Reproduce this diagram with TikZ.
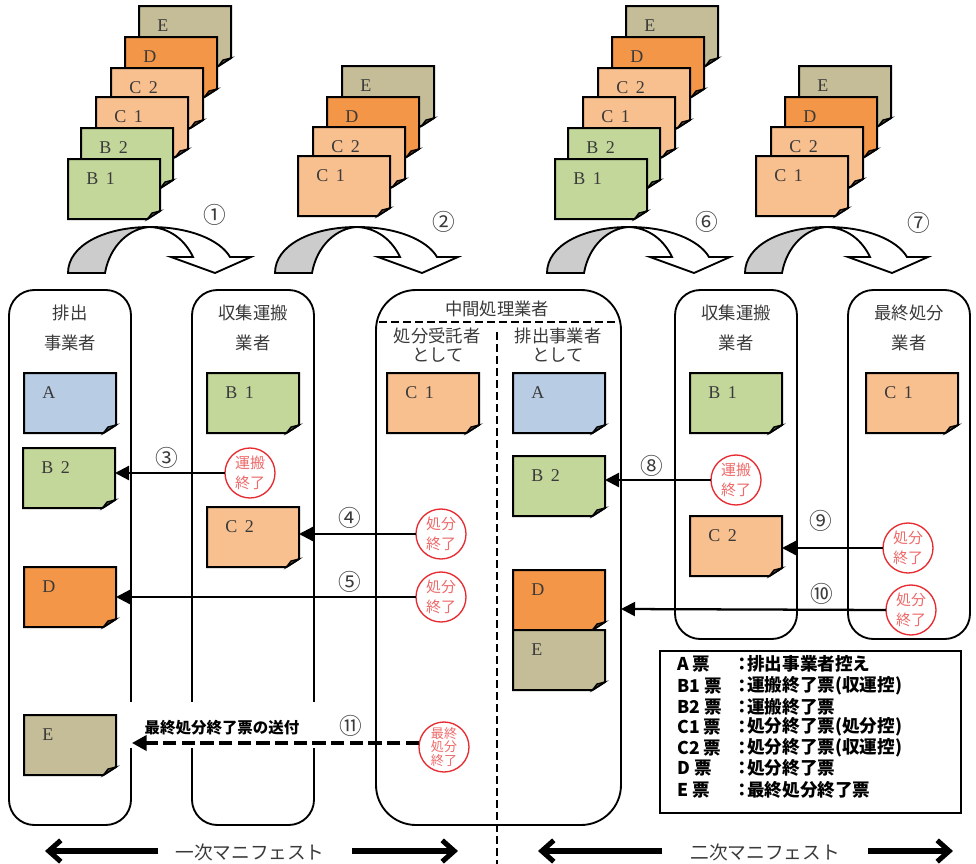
\documentclass[tikz,border=0pt]{standalone}
\usepackage{fontspec}
\setmainfont[WordSpace=1.7]{Liberation Serif}
\newfontfamily\cjk{Noto Sans CJK JP}
\usetikzlibrary{arrows.meta}
\definecolor{slipA}{HTML}{B8CCE4}
\definecolor{slipB}{HTML}{C4D79B}
\definecolor{slipC}{HTML}{F8BF8F}
\definecolor{slipD}{HTML}{F39647}
\definecolor{slipE}{HTML}{C4BD97}
\definecolor{sealred}{HTML}{E62A30}
\definecolor{sealtext}{HTML}{EE6A6A}
\definecolor{inktext}{HTML}{3A3A3A}
\tikzset{
  slipbox/.style={rectangle,minimum width=69pt,minimum height=45pt,inner sep=0pt,outer sep=0pt},
  slipline/.style={draw=black,line width=1.5pt,line join=miter},
  sliptext/.style={anchor=west,inner sep=0pt,text=inktext,font=\fontsize{13.5}{15}\selectfont},
  lane/.style={draw=black,line width=1.4pt,fill=white},
  head/.style={inner sep=0pt,text=inktext,font=\cjk\fontsize{13}{15}\selectfont},
  seal/.style={circle,draw=sealred,line width=1pt,fill=white,minimum size=37.5pt,inner sep=0pt,outer sep=0pt,align=center,text=sealtext,font=\cjk\fontsize{11.2}{15.5}\selectfont},
  sealsmall/.style={seal,font=\cjk\fontsize{9.8}{10.2}\selectfont},
  num/.style={inner sep=0pt,text=inktext,font=\cjk\fontsize{17}{18}\selectfont},
  flow/.style={draw=black,line width=1.7pt,-{Triangle[length=10.5pt,width=10.5pt]}},
  flowdash/.style={draw=black,line width=2.3pt,dash pattern=on 10pt off 4pt,-{Triangle[length=11pt,width=11.5pt]}},
  scopearrow/.style={draw=black,line width=3.8pt,-{Straight Barb[length=9pt,width=16pt,line width=3.8pt]}},
  divide/.style={draw=black,line width=1.3pt,dash pattern=on 6pt off 3pt},
  legendtext/.style={anchor=west,inner sep=0pt,text=black,font=\cjk\bfseries\fontsize{13.2}{15}\selectfont},
  bigtext/.style={inner sep=0pt,text=inktext,font=\cjk\fontsize{14}{15}\selectfont},
}
\newcommand{\slip}[5]{%
  \node[slipbox] (#1) at (#2+46,#3+30) {};
  \draw[slipline,fill=#4] (#2,#3) -- ++(92,0) -- ++(0,52) -- ++(-12.5,8) -- ++(-79.5,0) -- cycle;
  \draw[draw=black,line width=1pt,fill=#4!45!black] (#2+92,#3+52) -- (#2+84,#3+54) -- (#2+79.5,#3+60) -- cycle;
  \node[sliptext] (#1t) at (#2+18,#3+20) {#5};
}
\newcommand{\turn}[1]{%
  \begin{scope}[shift={(#1,0)}]
    \draw[draw=black,line width=1.4pt,line join=miter,fill=white] (150,227) .. controls (190,227) and (220,240) .. (230,257) -- (251,257) -- (215,273) -- (171,257) -- (193,257) .. controls (185,240) and (170,228) .. (150,227);
    \draw[draw=black,line width=1.4pt,line join=miter,fill=black!20] (68,273) .. controls (68,245) and (105,227) .. (150,227) .. controls (130,228) and (110,245) .. (105,273) -- cycle;
  \end{scope}%
}
\newcommand{\legendrow}[4]{%
  \node[legendtext] (#1a) at (677,#2) {#3};
  \node[legendtext] (#1b) at (733,#2) {：};
  \node[legendtext] (#1c) at (747,#2) {#4};
}
\begin{document}
\begin{tikzpicture}[x=0.75pt,y=-0.75pt]
\useasboundingbox (0,0) rectangle (976,864);
% lanes
\draw[lane] (9,290) [rounded corners=19pt] rectangle (131,825);
\draw[lane] (192,290) [rounded corners=19pt] rectangle (314,825);
\draw[lane] (376,290) [rounded corners=30pt] rectangle (621,825);
\draw[lane] (675,290) [rounded corners=19pt] rectangle (797,639);
\draw[lane] (848,290) [rounded corners=19pt] rectangle (970,639);
\fill[white] (128,702) rectangle (134,748);
\fill[white] (189,702) rectangle (195,748);
\fill[white] (311,702) rectangle (317,748);
\draw[divide] (379,322) -- (618,322);
\draw[divide] (497,332) -- (497,864);
% headings
\node[head] (h1a) at (70,313) {排出};
\node[head] (h1b) at (70,343) {事業者};
\node[head] (h2a) at (253,313) {収集運搬};
\node[head] (h2b) at (253,343) {業者};
\node[head] (h3) at (497,309) {中間処理業者};
\node[head] (h3a) at (437,336) {処分受託者};
\node[head] (h3b) at (438,355) {として};
\node[head] (h3c) at (558,336) {排出事業者};
\node[head] (h3d) at (558,355) {として};
\node[head] (h4a) at (736,313) {収集運搬};
\node[head] (h4b) at (736,343) {業者};
\node[head] (h5a) at (909,313) {最終処分};
\node[head] (h5b) at (909,343) {業者};
% stacks
\slip{aE}{139}{6}{slipE}{E}
\slip{aD}{125}{37}{slipD}{D}
\slip{aCb}{111}{68}{slipC}{C 2}
\slip{aCa}{96}{97}{slipC}{C 1}
\slip{aBb}{81}{128}{slipB}{B 2}
\slip{aBa}{68}{159}{slipB}{B 1}
\slip{bE}{342}{66}{slipE}{E}
\slip{bD}{327}{97}{slipD}{D}
\slip{bCb}{313}{127}{slipC}{C 2}
\slip{bCa}{298}{156}{slipC}{C 1}
\slip{cE}{626}{6}{slipE}{E}
\slip{cD}{612}{37}{slipD}{D}
\slip{cCb}{598}{68}{slipC}{C 2}
\slip{cCa}{583}{97}{slipC}{C 1}
\slip{cBb}{568}{128}{slipB}{B 2}
\slip{cBa}{555}{159}{slipB}{B 1}
\slip{dE}{799}{66}{slipE}{E}
\slip{dD}{785}{97}{slipD}{D}
\slip{dCb}{771}{127}{slipC}{C 2}
\slip{dCa}{756}{156}{slipC}{C 1}
% big arrows
\turn{0}
\turn{207}
\turn{479}
\turn{677}
\node[num] (n1) at (215,215) {①};
\node[num] (n2) at (444,222) {②};
\node[num] (n6) at (707,222) {⑥};
\node[num] (n7) at (919,223) {⑦};
% slips in lanes
\slip{eA}{24}{373}{slipA}{A}
\slip{eBb}{23}{448}{slipB}{B 2}
\slip{eD}{24}{567}{slipD}{D}
\slip{eE}{24}{715}{slipE}{E}
\slip{fBa}{207}{373}{slipB}{B 1}
\slip{fCb}{207}{507}{slipC}{C 2}
\slip{gCa}{387}{373}{slipC}{C 1}
\slip{hA}{513}{373}{slipA}{A}
\slip{hBb}{513}{456}{slipB}{B 2}
\slip{hD}{513}{570}{slipD}{D}
\slip{hE}{513}{630}{slipE}{E}
\slip{iBa}{690}{373}{slipB}{B 1}
\slip{iCb}{690}{516}{slipC}{C 2}
\slip{jCa}{866}{373}{slipC}{C 1}
% seals
\node[seal] (s3) at (250,473) {運搬\\終了};
\node[seal] (s4) at (441,534) {処分\\終了};
\node[seal] (s5) at (441,597) {処分\\終了};
\node[sealsmall] (s11) at (444,747) {最終\\処分\\終了};
\node[seal] (s8) at (736,480) {運搬\\終了};
\node[seal] (s9) at (908,548) {処分\\終了};
\node[seal] (s10) at (911,610) {処分\\終了};
\coordinate (t10) at (621,609);
\coordinate (t11) at (132,743);
% flows
\draw[flow] (s3.west) -- (eBb.east |- s3.west);
\draw[flow] (s4.west) -- (fCb.east |- s4.west);
\draw[flow] (s5.west) -- (eD.east |- s5.west);
\draw[flow] (s8.west) -- (hBb.east |- s8.west);
\draw[flow] (s9.west) -- (iCb.east |- s9.west);
\draw[flow] (s10.west) -- (t10);
\draw[flowdash] (s11.west |- t11) -- (t11);
\node[num] (n3) at (167,458) {③};
\node[num] (n4) at (350,518) {④};
\node[num] (n5) at (350,582) {⑤};
\node[num] (n8) at (652,466) {⑧};
\node[num] (n9) at (821,521) {⑨};
\node[num] (n10) at (822,594) {⑩};
\node[num] (n11) at (351,726) {⑪};
\node[inner sep=0pt,text=black,font=\cjk\bfseries\fontsize{11.6}{13}\selectfont] (send) at (222,728) {最終処分終了票の送付};
% legend
\draw[draw=black,line width=1.5pt,fill=white] (660,651) rectangle (961,813);
\legendrow{la}{664}{A 票}{排出事業者控え}
\legendrow{lb}{686}{B1 票}{運搬終了票(収運控)}
\legendrow{lc}{707}{B2 票}{運搬終了票}
\legendrow{ld}{727}{C1 票}{処分終了票(処分控)}
\legendrow{le}{748}{C2 票}{処分終了票(収運控)}
\legendrow{lf}{768}{D 票}{処分終了票}
\legendrow{lg}{790}{E 票}{最終処分終了票}
% bottom scope arrows
\node[bigtext] (m1) at (250,852) {一次マニフェスト};
\node[bigtext] (m2) at (765,852) {二次マニフェスト};
\coordinate (m1l) at (45,851);
\coordinate (m1r) at (458,851);
\coordinate (m2l) at (538,851);
\coordinate (m2r) at (953,851);
\draw[scopearrow] (158,851) -- (m1l);
\draw[scopearrow] (352,851) -- (m1r);
\draw[scopearrow] (662,851) -- (m2l);
\draw[scopearrow] (868,851) -- (m2r);
\end{tikzpicture}
\end{document}
